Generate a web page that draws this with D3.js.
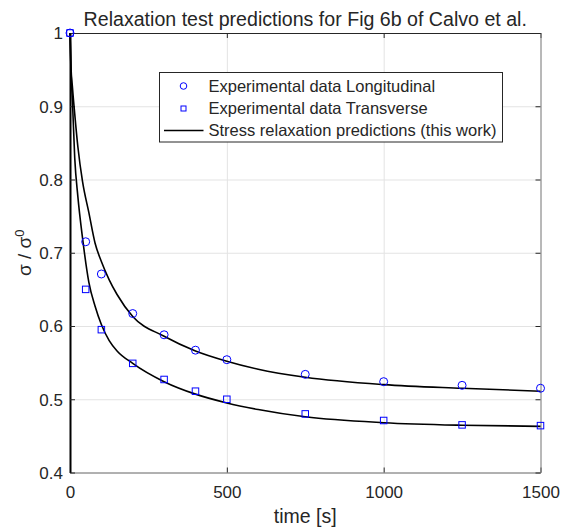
<!DOCTYPE html>
<html>
<head>
<meta charset="utf-8">
<script src="https://d3js.org/d3.v7.min.js"></script>
<style>
  body { margin: 0; background: #fff; }
  text { font-family: "Liberation Sans", Arial, Helvetica, sans-serif; fill: #262626; }
  .tick text { font-size: 17px; }
  .grid line { stroke: #e3e3e3; stroke-width: 1px; }
  .grid path { display: none; }
</style>
</head>
<body>
<div id="chart"></div>
<script>
const timeExp  = [0, 50, 100, 200, 300, 400, 500, 750, 1000, 1250, 1500];
const longExp  = [1.0, 0.715, 0.671, 0.617, 0.588, 0.567, 0.554, 0.534, 0.524, 0.519, 0.515];
const transExp = [1.0, 0.650, 0.595, 0.549, 0.527, 0.511, 0.500, 0.480, 0.471, 0.465, 0.464];

// model predictions (black curves)
const timeFit  = [0, 3, 8, 15, 25, 40, 60, 80, 100, 125, 150, 200, 300, 400, 500, 600, 750, 1000, 1250, 1500];
const longFit  = [1.0, 0.955, 0.925, 0.89, 0.845, 0.797, 0.755, 0.713, 0.688, 0.663, 0.643, 0.613, 0.586, 0.566, 0.552, 0.541, 0.530, 0.520, 0.515, 0.511];
const transFit = [1.0, 0.95, 0.905, 0.83, 0.777, 0.72, 0.66, 0.627, 0.602, 0.58, 0.566, 0.549, 0.524, 0.507, 0.495, 0.486, 0.476, 0.468, 0.4645, 0.463];

const xTicks = [0, 500, 1000, 1500];
const yTicks = [0.4, 0.5, 0.6, 0.7, 0.8, 0.9, 1];

const legendLabels = ["Experimental data Longitudinal", "Experimental data Transverse", "Stress relaxation predictions (this work)"];

const W = 563, H = 528;
const plotL = 70, plotR = 540.5, plotT = 33, plotB = 472.5;

const x = d3.scaleLinear().domain([0, 1500]).range([plotL, plotR]);
const y = d3.scaleLinear().domain([0.4, 1]).range([plotB, plotT]);

const svg = d3.select("#chart").append("svg")
    .attr("width", W)
    .attr("height", H);

// grid
svg.append("g")
    .attr("class", "grid")
    .attr("transform", "translate(0," + plotB + ")")
    .call(d3.axisBottom(x).tickValues(xTicks).tickSize(-(plotB - plotT)).tickFormat(""));
svg.append("g")
    .attr("class", "grid")
    .attr("transform", "translate(" + plotL + ",0)")
    .call(d3.axisLeft(y).tickValues(yTicks).tickSize(-(plotR - plotL)).tickFormat(""));

// axes, ticks pointing inward
const xAxis = svg.append("g")
    .attr("transform", "translate(0," + plotB + ")")
    .call(d3.axisBottom(x).tickValues(xTicks).tickSize(-5).tickSizeOuter(0).tickPadding(13).tickFormat(d3.format("d")));
const yAxis = svg.append("g")
    .attr("transform", "translate(" + plotL + ",0)")
    .call(d3.axisLeft(y).tickValues(yTicks).tickSize(-5).tickSizeOuter(0).tickPadding(7).tickFormat(d => d === 1 ? "1" : d3.format(".1f")(d)));
const xTop = svg.append("g")
    .attr("transform", "translate(0," + plotT + ")")
    .call(d3.axisTop(x).tickValues(xTicks).tickSize(-5).tickSizeOuter(0).tickFormat(""));
const yRight = svg.append("g")
    .attr("transform", "translate(" + plotR + ",0)")
    .call(d3.axisRight(y).tickValues(yTicks).tickSize(-5).tickSizeOuter(0).tickFormat(""));

xAxis.select(".domain").attr("stroke", "#707070");
yRight.select(".domain").attr("stroke", "#808080");
xTop.select(".domain").attr("stroke", "#262626");
yAxis.select(".domain").attr("stroke", "#000").attr("stroke-width", 2);
svg.selectAll(".tick line").attr("stroke", "#262626");
xAxis.selectAll(".tick text").attr("fill", "#262626");
yAxis.selectAll(".tick text").attr("fill", "#262626").attr("dy", "0.34em");

// prediction curves
const line = d3.line()
    .x((d, i) => x(timeFit[i]))
    .y(d => y(d))
    .curve(d3.curveMonotoneX);

[longFit, transFit].forEach(function(s) {
    svg.append("path")
        .attr("d", line(s))
        .attr("fill", "none")
        .attr("stroke", "#000")
        .attr("stroke-width", 1.6);
});

// experimental markers
svg.selectAll(".circ")
    .data(longExp)
    .enter()
    .append("circle")
    .attr("class", "circ")
    .attr("cx", (d, i) => x(timeExp[i]))
    .attr("cy", d => y(d))
    .attr("r", 4)
    .attr("fill", "none")
    .attr("stroke", "#0000ff")
    .attr("stroke-width", 1);

const sq = 6.5;
svg.selectAll(".sq")
    .data(transExp)
    .enter()
    .append("rect")
    .attr("class", "sq")
    .attr("x", (d, i) => x(timeExp[i]) - sq / 2)
    .attr("y", d => y(d) - sq / 2)
    .attr("width", sq)
    .attr("height", sq)
    .attr("fill", "none")
    .attr("stroke", "#0000ff")
    .attr("stroke-width", 1);

// title and labels
svg.append("text")
    .attr("x", (plotL + plotR) / 2)
    .attr("y", 26)
    .attr("text-anchor", "middle")
    .style("font-size", "19.6px")
    .attr("fill", "#000")
    .text("Relaxation test predictions for Fig 6b of Calvo et al.");

svg.append("text")
    .attr("x", (plotL + plotR) / 2)
    .attr("y", 523)
    .attr("text-anchor", "middle")
    .style("font-size", "19.5px")
    .text("time [s]");

const yl = svg.append("text")
    .attr("transform", "translate(31," + ((plotT + plotB) / 2) + ") rotate(-90)")
    .attr("text-anchor", "middle")
    .style("font-size", "19px");
yl.append("tspan").text("σ / σ");
yl.append("tspan").attr("baseline-shift", "super").style("font-size", "13px").text("0");

// legend
const lg = svg.append("g");
lg.append("rect")
    .attr("x", 159.5)
    .attr("y", 72.5)
    .attr("width", 343)
    .attr("height", 69.5)
    .attr("fill", "#fff")
    .attr("stroke", "#262626")
    .attr("stroke-width", 1);

const rowY = [86, 108.5, 130.5];
lg.append("circle")
    .attr("cx", 183.5).attr("cy", rowY[0]).attr("r", 3.3)
    .attr("fill", "none").attr("stroke", "#0000ff");
lg.append("rect")
    .attr("x", 181).attr("y", rowY[1] - 2.5).attr("width", 5).attr("height", 5)
    .attr("fill", "none").attr("stroke", "#0000ff");
lg.append("line")
    .attr("x1", 164).attr("x2", 203.5)
    .attr("y1", rowY[2]).attr("y2", rowY[2])
    .attr("stroke", "#000").attr("stroke-width", 1.3);

lg.selectAll(".lt")
    .data(legendLabels)
    .enter()
    .append("text")
    .attr("class", "lt")
    .attr("x", 208.5)
    .attr("y", (d, i) => rowY[i])
    .attr("dy", "0.35em")
    .style("font-size", "16.5px")
    .attr("fill", "#000")
    .text(d => d);
</script>
</body>
</html>
